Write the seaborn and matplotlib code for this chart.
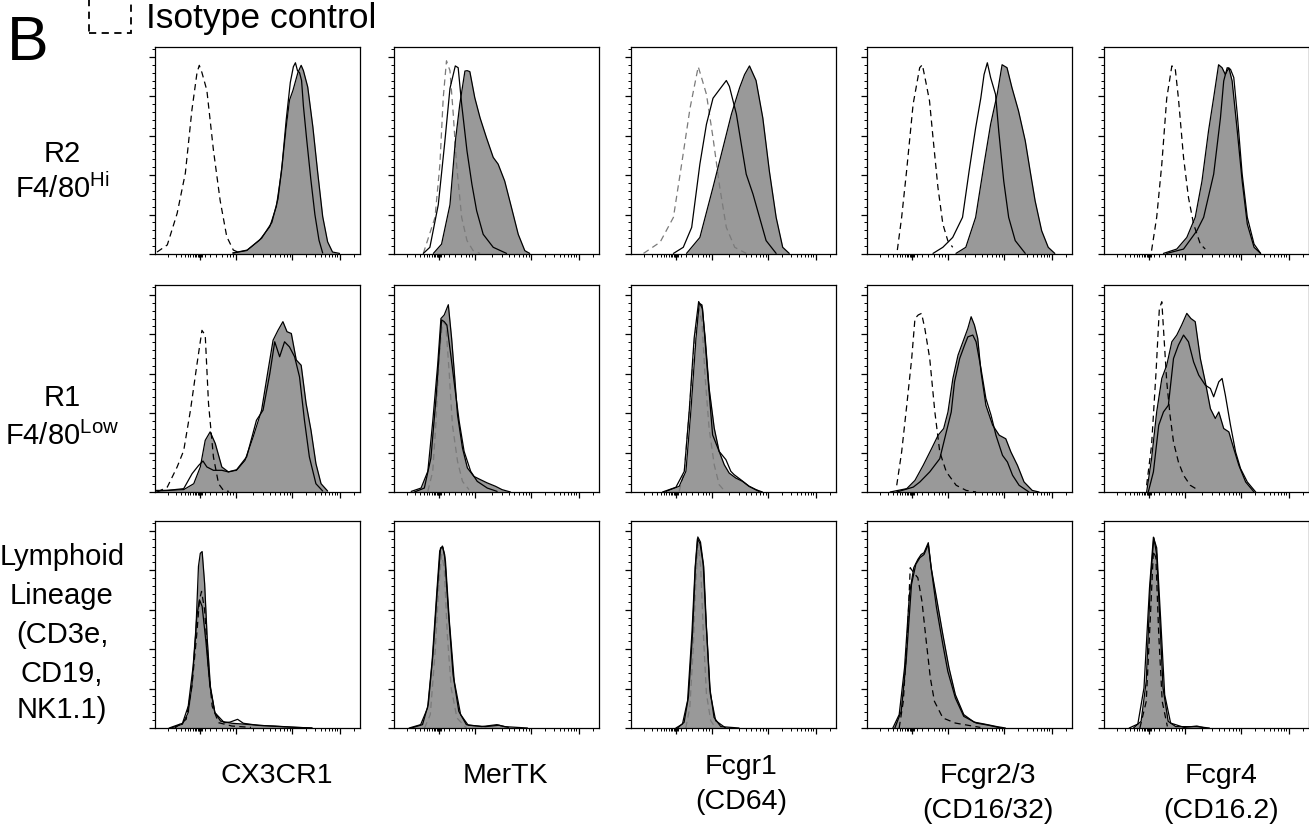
import matplotlib
matplotlib.use("Agg")
import matplotlib.pyplot as plt
from matplotlib.patches import Rectangle
import seaborn as sns

# histogram outlines: (x position 0-100 across panel, % of max)
# row R2 (F4/80 Hi)
r2_cx3_fill = [(38, 0.5), (44.7, 1.7), (51, 7), (56, 13.8), (59.2, 24), (61.6, 41), (64, 64.5), (65.6, 78), (67.3, 83),
               (69.7, 92), (71.3, 95.7), (72.4, 93), (74.5, 84.7), (77, 64.5), (79.4, 41), (81.8, 19), (84.2, 6.2),
               (86.6, 1), (90, 0.3)]
r2_cx3_open = [(38, 0.5), (45, 2), (52, 8), (57, 16), (60, 28), (62, 45), (64, 68), (66, 87), (67.5, 95), (68.5, 97),
               (69.5, 93), (70.5, 92), (71.5, 88), (72.4, 75), (74, 58), (76, 38), (78, 20), (80, 7), (81.8, 0.5)]
r2_cx3_iso = [(1, 1), (6, 4.6), (10.8, 20.6), (14.8, 41), (18, 73), (20.5, 92), (21.6, 95.7), (22.9, 92), (25.3, 83),
              (28.5, 52.7), (31.8, 27), (35, 8.8), (38.2, 2), (41.5, 0.5)]

r2_mer_fill = [(19.2, 0.3), (23.2, 5), (27.3, 25), (29.9, 57), (32.1, 76), (34.6, 92.8), (35.7, 93), (37, 92.5),
               (39.4, 79.3), (42, 69), (45.1, 59), (48.4, 49), (50.8, 45.6), (54, 37), (57.3, 23.6), (60.6, 10),
               (63.8, 1.7), (66.2, 0.3)]
r2_mer_open = [(14.3, 0.3), (17.5, 3.4), (21.6, 25), (24.8, 57), (27.3, 84), (29.9, 95.4), (31.3, 94.5), (33, 76),
               (35.6, 52.3), (38, 35.4), (40.3, 22), (43.5, 10), (48.4, 3.4), (54.9, 0.3)]
r2_mer_iso = [(14.3, 0.3), (20, 18.6), (22.4, 45.6), (24, 79), (25.6, 98), (27.3, 93), (28.9, 71), (30.5, 45.6),
              (33, 18.6), (35.6, 6.8), (38.6, 1.7), (42, 0.3)]

r2_cd64_fill = [(27.1, 0.3), (33.6, 8.4), (40, 33.8), (44.9, 54), (49, 71), (53, 84.4), (55.4, 91), (57.8, 95.4),
                (61, 88), (64.3, 69), (67.5, 42), (70.8, 18.6), (74, 3.4), (77.2, 0.3)]
r2_cd64_open = [(20.7, 0.3), (25.5, 3.4), (29.6, 13.5), (33.6, 45.6), (36.8, 65.8), (40, 79), (43.3, 83.6),
                (46.5, 88), (48, 85), (51.4, 71), (53.8, 55.7), (56.2, 40.5), (59.5, 30.4), (62.7, 18.6),
                (65.9, 6.8), (70.8, 0.3)]
r2_cd64_iso = [(6.1, 0.3), (14.2, 6), (20.7, 18.6), (24.7, 45.6), (28.8, 74), (32.8, 95), (34.4, 89.5), (36.8, 81),
               (40, 59), (43.3, 33.8), (46.5, 13.5), (50.6, 3.4), (56.2, 0.3)]

r2_cd1632_fill = [(43.4, 0.3), (48.2, 3.4), (53, 18.6), (57.1, 45.6), (60.3, 65.8), (63.5, 81), (65.9, 96),
                  (68.3, 94.5), (70.7, 84.4), (73.9, 72.6), (77.2, 57.4), (79.6, 42), (82, 27), (85.2, 11.8),
                  (88.4, 3.4), (91.6, 0.3)]
r2_cd1632_open = [(32.2, 0.3), (37, 3.4), (41.8, 8.4), (46.6, 18.6), (49.8, 42), (53, 64), (55.5, 79), (57.1, 91),
                  (58.7, 97), (60.3, 89.5), (62.7, 81), (64.3, 62), (66.7, 37), (69.1, 18.6), (72.3, 6.8),
                  (77.2, 0.3)]
r2_cd1632_iso = [(14.8, 2), (16.9, 18.6), (19.3, 42), (22.5, 76), (25.7, 94.5), (27, 96), (28.6, 87.8), (30.5, 77.6),
                 (32.2, 59), (34.6, 33.8), (37, 15.2), (39.4, 6.8), (41.8, 3.4)]

r2_cd162_fill = [(29, 0.3), (35.5, 2.5), (40.4, 8.4), (44.5, 18.6), (47.8, 37), (51, 62.5), (53.5, 79.3), (55.9, 96),
                 (57.6, 94.5), (59.2, 91), (60.9, 94.5), (62.5, 87.8), (65, 62.5), (67.4, 37), (69.9, 15.2),
                 (73.2, 3.4), (76.4, 0.3)]
r2_cd162_open = [(30.6, 0.3), (38.8, 2.5), (45.3, 11.8), (48.6, 18.6), (53.5, 40.5), (56.8, 69), (58.4, 87.8),
                 (60.1, 94.5), (61.7, 93.7), (63.3, 89.5), (65, 71), (67.4, 40.5), (69.9, 18.6), (73.2, 5),
                 (76.4, 0.3)]
r2_cd162_iso = [(23.2, 1.7), (25.7, 18.6), (28.2, 45.6), (30.6, 79), (33.1, 95.4), (34.7, 94.5), (36.3, 79),
                (38.8, 49), (41.2, 28.7), (43.7, 15.2), (47, 5), (49.4, 2.5)]

# row R1 (F4/80 Low)
r1_cx3_fill = [(0, 0.8), (6, 0.8), (14, 1.2), (18.9, 4.2), (22.1, 12.7), (24.5, 26.2), (26.9, 30.5), (29.4, 24.6),
               (32.6, 12.7), (35.8, 10.2), (39.8, 11), (43.9, 16), (47.9, 28), (52, 41.5), (55.2, 62), (57.6, 77),
               (60, 82), (62.4, 86.4), (64.4, 81.3), (66.5, 80.4), (68.9, 67), (71.3, 64.3), (73.7, 44.9),
               (76.1, 31.3), (78.5, 14.4), (81, 4.2), (84.2, 0.5)]
r1_cx3_open = [(0, 0.5), (6, 0.8), (14, 1.7), (18.1, 9.3), (21.3, 13.5), (23.4, 15.7), (25.3, 12.7), (28.5, 11),
               (32.6, 11), (35.8, 10.2), (39.8, 11.3), (44.7, 17.8), (49.5, 36.4), (52.7, 41.5), (56, 60),
               (58.4, 76.2), (60.8, 68.6), (63.2, 76.2), (65.6, 73.6), (68.1, 68.6), (70.5, 58.4), (72.9, 36.4),
               (75.3, 17.8), (78.5, 4.2), (81.8, 0.5)]
r1_cx3_iso = [(1.1, 0), (6, 2.5), (10.8, 12.7), (14, 21), (17.3, 41.5), (20.5, 65), (22.9, 82), (24.5, 79.6),
              (26.1, 44.9), (28.5, 17.8), (31, 4.2), (33.4, 0.8), (36, 0.3)]

r1_mer_fill = [(8.4, 0.3), (13.2, 2), (16.5, 10.5), (18.9, 35.8), (21.3, 64.5), (22.9, 88), (24.5, 89.8),
               (26.5, 95), (28.1, 78), (29.4, 61), (31, 39), (33.4, 22.3), (35.8, 12.2), (39, 7.9), (42.3, 6.2),
               (45.5, 4.6), (49.5, 2.9), (52.7, 1.2), (56.8, 0)]
r1_mer_open = [(10, 0), (14.8, 2), (18, 17.2), (20.5, 47.6), (22.1, 71.3), (23.2, 87.3), (24.5, 86.4), (25.8, 84.7),
               (27.7, 69.5), (29.7, 52.7), (31.8, 35.8), (34.2, 20.6), (37.4, 10.5), (40.6, 5.4), (45.5, 2),
               (50.3, 0.3)]
r1_mer_iso = [(16.5, 0.3), (18.9, 10.5), (20.5, 35.8), (22.1, 69.5), (23.7, 86.4), (25.3, 84.7), (26.9, 61),
              (28.5, 34), (31, 15.5), (33.4, 5.4), (36.6, 1.2)]

r1_cd64_fill = [(17, 0.3), (23.5, 2.9), (26.8, 10.5), (29.2, 41), (31.7, 78), (33.3, 95.7), (34.6, 94.9), (36.2, 78),
                (38.1, 52.7), (40.6, 32.4), (43, 20.6), (45.5, 13.8), (47.9, 9.6), (51.1, 7.1), (54.4, 5.4),
                (57.6, 2.9), (60.9, 1.2), (64.1, 0)]
r1_cd64_open = [(15.4, 0), (21.9, 2.4), (26, 10.5), (28.4, 41), (30.8, 78), (33, 96.6), (34.9, 93), (37.3, 61),
                (39.8, 29), (43, 20.6), (46.3, 16.4), (48.7, 10.5), (50.3, 8.8), (53.6, 6.2), (57.6, 2.9),
                (62.5, 0.3)]
r1_cd64_iso = [(23.5, 0.3), (26, 10.5), (28.4, 41), (30.8, 74.6), (33, 93), (34.6, 86.4), (36.2, 57.7), (38.1, 32.4),
               (40.6, 13.8), (43, 3.7), (45.5, 0.7)]

r1_cd1632_fill = [(11.3, 0), (19.4, 1.7), (23.4, 5.9), (27.4, 13.5), (31.5, 22), (34.7, 28.8), (37.4, 32.2),
                  (39.5, 40.6), (41.9, 57.6), (44.4, 69.4), (46.8, 76.2), (49.2, 83), (50.8, 88.9), (52.4, 84.7),
                  (54, 78), (55.6, 61), (58, 44), (61.3, 33.9), (64.5, 28.8), (67.7, 27), (70.2, 20.3),
                  (73.4, 13.5), (76.6, 5.1), (80.6, 0.8), (83.9, 0)]
r1_cd1632_open = [(14.5, 0), (22.6, 2.5), (25.8, 5.1), (30.6, 10.2), (35.5, 16.9), (38.7, 30.5), (41.1, 40.6),
                  (42.7, 55.9), (45.2, 67.7), (47.6, 74.5), (49.2, 78.7), (51.6, 79.6), (53.2, 76.2), (55.6, 62.6),
                  (58, 47.4), (60.5, 39), (62.9, 28.8), (66.1, 18.6), (68.5, 15.2), (71, 8.5), (74.2, 3.4), (79, 0)]
r1_cd1632_iso = [(14.5, 3.4), (16.9, 20.3), (19.4, 44), (21.8, 67.7), (23.4, 88), (25, 89.8), (26.6, 90.6),
                 (28.2, 83), (30.6, 67.7), (33.1, 40.6), (35.5, 20.3), (38.7, 10.2), (43.5, 3.4), (48.4, 0.8),
                 (53.2, 0)]

r1_cd162_fill = [(20.8, 0), (23.2, 16.9), (25.7, 40.6), (28.2, 57.6), (30.6, 64.3), (33.1, 76.2), (35.5, 79.6),
                 (37.9, 84.7), (40.4, 90.6), (42.4, 88), (44.5, 86.4), (47, 67.7), (49.4, 55.9), (51.9, 42.3),
                 (54.3, 37.3), (56, 40.6), (58.4, 32.2), (60.9, 30.5), (63.3, 22), (65.8, 13.5), (69.1, 5.1),
                 (73.2, 0)]
r1_cd162_open = [(21.6, 0), (24.1, 10.2), (26.7, 33.9), (29, 40.6), (31.4, 44), (33.9, 67.7), (36.3, 74.5),
                 (38.8, 79.6), (41.2, 76.2), (43.7, 66), (46.2, 59.3), (49.4, 54.2), (51.9, 52.5), (53.5, 48.3),
                 (56, 55.9), (57.6, 57.6), (59.2, 49.1), (61.7, 33.9), (64.2, 20.3), (66.6, 11.9), (69.9, 5.1),
                 (74, 0)]
r1_cd162_iso = [(20.8, 3.4), (23.2, 23.7), (25.4, 61), (27, 93), (28.2, 96.5), (29.3, 78), (30.6, 56), (32.2, 39),
                (33.9, 25.4), (36.3, 15.2), (38.8, 8.5), (42.1, 3.4), (46.2, 0.8)]

# row Lymphoid lineage
ly_cx3_fill = [(7.8, 0), (13.4, 1.9), (16.2, 7.8), (18, 21.2), (19.9, 48), (21.2, 82), (22.1, 88.6), (23, 89.5),
               (24.2, 73.4), (25.5, 44.8), (27, 21.2), (29.2, 7.8), (32, 3.5), (37.5, 2.4), (46.8, 1.7), (56, 1),
               (65.4, 0.5), (76.6, 0)]
ly_cx3_open = [(6.9, 0), (13.4, 2.4), (16.2, 11), (18.6, 31.3), (20.4, 56.6), (21.7, 65), (23, 61.7), (24.9, 43.2),
               (26.8, 21.2), (29.2, 7.8), (33.8, 2.7), (36.6, 3), (40.3, 4.4), (43.1, 2.4), (50.6, 1.3), (58, 1),
               (69.1, 0.3), (76.6, 0)]
ly_cx3_iso = [(9.7, 0), (15.2, 4.4), (18, 21.2), (20.4, 48), (21.7, 65), (22.7, 69.3), (24.2, 60), (26, 31.3),
              (27.9, 11), (31, 2.7), (37.5, 1), (46.8, 0.3)]

ly_mer_fill = [(7.4, 0), (13, 1.7), (16.4, 10.2), (18.6, 33.9), (20.8, 67.7), (22.3, 89.8), (23.6, 92.3), (24.7, 88),
               (26.4, 61), (28.8, 27.1), (31.6, 8.5), (35.3, 1.7), (42.8, 0.7), (50.2, 1.7), (53.9, 0.7), (65.1, 0)]
ly_mer_open = [(8.4, 0), (13.9, 1.7), (16.7, 11.9), (19, 37.3), (21.2, 71), (22.7, 91.4), (23.8, 91.8), (25.1, 84.7),
               (27, 54.2), (29.4, 23.7), (32.5, 6.8), (36.2, 1.4), (44.6, 0.7), (51.1, 1.4), (55.8, 0.3)]
ly_mer_iso = [(14.9, 0), (17.7, 6.8), (20.1, 39), (21.9, 72.8), (23.2, 88), (24.5, 81.3), (26, 47.4), (27.9, 20.3),
              (30.7, 5.1), (35.3, 0)]

ly_cd64_fill = [(21.9, 0), (25.1, 2), (27.6, 13.9), (29.7, 47.8), (31.3, 81.6), (32.4, 96), (33.7, 93.5),
                (35.2, 83.3), (36.5, 56.2), (38.4, 20.7), (40.5, 5.4), (43.8, 0.7), (52.7, 0)]
ly_cd64_open = [(22.7, 0), (25.9, 2.9), (28, 15.6), (30, 47.8), (31.4, 81.6), (32.6, 96.9), (33.9, 94.3),
                (35.5, 81.6), (36.8, 51.1), (38.7, 17.3), (41.3, 3.7), (46.2, 0)]
ly_cd64_iso = [(26.7, 0), (28.7, 10.5), (30.3, 39.3), (31.6, 73.2), (32.7, 93.5), (34, 81.6), (35.3, 47.8),
               (36.8, 17.3), (38.9, 3.7), (41.3, 0)]

ly_cd1632_fill = [(12.6, 0), (15.7, 6.8), (18.3, 30.5), (20.7, 67.7), (22.8, 81.3), (24.8, 85.5), (26.4, 88),
                  (27.8, 88.9), (29.9, 94), (31.3, 81.3), (33.9, 66), (37, 47.4), (40, 30.5), (43.1, 16.9),
                  (47.2, 6.8), (52.2, 3), (57.3, 2), (63.4, 0.7), (67.5, 0)]
ly_cd1632_open = [(13.6, 0), (16.7, 8.5), (19.1, 33.9), (21.7, 72.8), (23.8, 83), (25.8, 86.4), (27.8, 88),
                  (29.9, 93.1), (31.5, 79.6), (33.9, 61), (37, 42.3), (39.4, 28.8), (43.1, 15.2), (47.2, 5.9),
                  (53.3, 2.5), (59.3, 1.4), (65.4, 0)]
ly_cd1632_iso = [(15.7, 0), (17.7, 13.5), (19.7, 47.4), (21.1, 81.3), (22.8, 78.7), (24.8, 76.2), (26.8, 64.3),
                 (28.9, 44), (30.9, 25.4), (32.9, 13.5), (37, 5.1), (43.1, 2.5), (49.2, 1.4), (55.3, 0.3)]

ly_cd162_fill = [(14.4, 0), (18.1, 3.4), (20.6, 23.7), (22.6, 72.8), (24.3, 96.5), (25.7, 88), (27.2, 55.9),
                 (28.8, 20.3), (31.3, 3.4), (35, 0.7), (45.3, 0.7), (51.4, 0)]
ly_cd162_open = [(12.3, 0), (16.5, 2), (19.5, 20.3), (22.2, 71.1), (24.1, 96.8), (25.7, 91.4), (27.6, 55.9),
                 (29.6, 16.9), (32.5, 2.5), (39.1, 0.3), (45.3, 1), (49.4, 0)]
ly_cd162_iso = [(17.5, 0), (20.6, 13.5), (22.6, 55.9), (24.1, 89.8), (25.3, 86.4), (26.7, 47.4), (28.4, 13.5),
                (30.9, 0.8)]

rows = [
    [(r2_cx3_fill, r2_cx3_open, r2_cx3_iso), (r2_mer_fill, r2_mer_open, r2_mer_iso),
     (r2_cd64_fill, r2_cd64_open, r2_cd64_iso), (r2_cd1632_fill, r2_cd1632_open, r2_cd1632_iso),
     (r2_cd162_fill, r2_cd162_open, r2_cd162_iso)],
    [(r1_cx3_fill, r1_cx3_open, r1_cx3_iso), (r1_mer_fill, r1_mer_open, r1_mer_iso),
     (r1_cd64_fill, r1_cd64_open, r1_cd64_iso), (r1_cd1632_fill, r1_cd1632_open, r1_cd1632_iso),
     (r1_cd162_fill, r1_cd162_open, r1_cd162_iso)],
    [(ly_cx3_fill, ly_cx3_open, ly_cx3_iso), (ly_mer_fill, ly_mer_open, ly_mer_iso),
     (ly_cd64_fill, ly_cd64_open, ly_cd64_iso), (ly_cd1632_fill, ly_cd1632_open, ly_cd1632_iso),
     (ly_cd162_fill, ly_cd162_open, ly_cd162_iso)],
]

# isotype line is grey for MerTK and Fcgr1 columns
iso_colors = ["black", "#7a7a7a", "#7a7a7a", "black", "black"]

row_labels = [["R2", r"F4/80$^{\rm Hi}$"], ["R1", r"F4/80$^{\rm Low}$"],
              ["Lymphoid", "Lineage", "(CD3e,", "CD19,", "NK1.1)"]]
row_label_base = [[162, 198], [406, 445], [565, 604, 643, 682, 718]]

col_labels = [["CX3CR1"], ["MerTK"], ["Fcgr1", "(CD64)"], ["Fcgr2/3", "(CD16/32)"], ["Fcgr4", "(CD16.2)"]]
col_label_x = [277, 505, 741, 988, 1221]
col_label_base = [[783], [783], [774, 809], [783, 818], [783, 818]]

# axis tick layout (biexponential-like scale)
x_major = [22, 39.5, 67, 90]
x_minor = [6.3, 10, 12.5, 14.5, 16, 17.3, 18.4, 19.3, 20.1, 20.8, 21.3, 21.6, 22.4, 22.8,
           24.5, 27, 29.8, 32.6, 35, 36.8, 38.2,
           47.8, 52.6, 56, 58.7, 60.9, 62.7, 64.3, 65.7,
           73.9, 78, 80.8, 83.1, 84.9, 86.4, 87.8, 89, 97]

W, H = 1309, 827
col_left = [155, 394, 631, 867, 1104]
row_top = [47, 285, 521]
pw, ph = 205, 207

sns.set_style("ticks")
plt.rcParams["font.family"] = ["Liberation Sans", "DejaVu Sans"]
plt.rcParams["mathtext.fontset"] = "custom"
plt.rcParams["mathtext.rm"] = "Liberation Sans"
plt.rcParams["text.color"] = "black"

fig = plt.figure(figsize=(W / 100, H / 100), dpi=100)

for r, row in enumerate(rows):
    for c, (fill, opn, iso) in enumerate(row):
        ax = fig.add_axes([col_left[c] / W, 1 - (row_top[r] + ph) / H, pw / W, ph / H])
        fx, fy = zip(*fill)
        ox, oy = zip(*opn)
        ix, iy = zip(*iso)
        ax.fill_between(fx, fy, color="#999999", lw=0, zorder=1)
        sns.lineplot(x=list(fx), y=list(fy), ax=ax, color="black", lw=0.9, sort=False, estimator=None, zorder=3)
        sns.lineplot(x=list(ox), y=list(oy), ax=ax, color="black", lw=0.9, sort=False, estimator=None, zorder=3)
        sns.lineplot(x=list(ix), y=list(iy), ax=ax, color=iso_colors[c], lw=0.9, sort=False, estimator=None,
                     dashes=False, linestyle=(0, (5, 3.5)), zorder=2)
        ax.set_xlim(0, 100)
        ax.set_ylim(0, 105)
        ax.set_xticks(x_major)
        ax.set_xticks(x_minor, minor=True)
        ax.set_yticks([0, 20, 40, 60, 80, 100])
        ax.set_yticks([v for v in range(4, 105, 4) if v % 20], minor=True)
        ax.set_xticklabels([])
        ax.set_yticklabels([])
        ax.set_xlabel("")
        ax.set_ylabel("")
        ax.tick_params(which="major", direction="out", length=4, width=0.9, color="black")
        ax.tick_params(which="minor", direction="out", length=2, width=0.7, color="black")
        for s in ax.spines.values():
            s.set_visible(True)
            s.set_color("black")
            s.set_linewidth(0.9)

for lines, bases in zip(row_labels, row_label_base):
    for txt, b in zip(lines, bases):
        fig.text(62 / W, 1 - b / H, txt, ha="center", va="baseline", fontsize=21, color="black")

for lines, x, bases in zip(col_labels, col_label_x, col_label_base):
    for txt, b in zip(lines, bases):
        fig.text(x / W, 1 - b / H, txt, ha="center", va="baseline", fontsize=20.5, color="black")

fig.text(7 / W, 1 - 60 / H, "B", ha="left", va="baseline", fontsize=45, color="black")
fig.patches.append(Rectangle((89 / W, 1 - 33 / H), 42 / W, 45 / H, transform=fig.transFigure, fill=False,
                             edgecolor="black", lw=1.3, linestyle=(0, (4, 3)), figure=fig))
fig.text(146 / W, 1 - 28 / H, "Isotype control", ha="left", va="baseline", fontsize=25.5, color="black")

fig.savefig("out.png", dpi=100)
